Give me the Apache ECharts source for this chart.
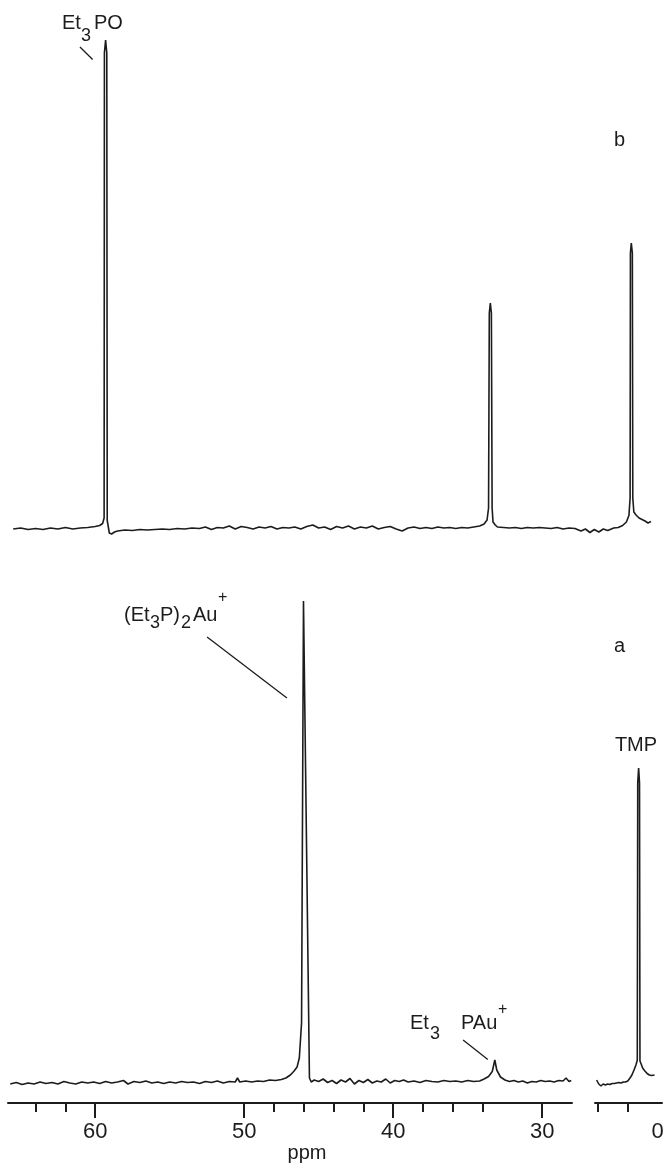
<!DOCTYPE html>
<html>
<head>
<meta charset="utf-8">
<style>
  html, body { margin: 0; padding: 0; background: #fff; }
  #chart { width: 665px; height: 1174px; }
</style>
<script src="https://cdn.jsdelivr.net/npm/echarts/dist/echarts.min.js"></script>
</head>
<body>
<div id="chart"></div>
<script>
// spectrum b (upper trace), [ppm, intensity]
const spectrumB = [
  [65.5, -0.2], [65.0, 0.0], [64.5, -0.3], [64.0, -0.1], [63.5, -0.3], [63.0, 0.0],
  [62.5, -0.2], [62.0, 0.1], [61.5, -0.2], [61.0, 0.0], [60.5, 0.1], [60.0, 0.3],
  [59.7, 0.5], [59.5, 0.9], [59.4, 2.0], [59.38, 95.0], [59.3, 97.6], [59.22, 95.0],
  [59.19, 1.5], [59.05, -1.0], [58.9, -1.2], [58.7, -0.8], [58.5, -0.6], [58.0, -0.4],
  [57.5, -0.5], [57.0, -0.3], [56.5, -0.4], [56.0, -0.3], [55.5, -0.2], [55.0, -0.3],
  [54.5, -0.1], [54.0, -0.2], [53.5, 0.0], [53.0, -0.1], [52.6, 0.2], [52.2, -0.3],
  [51.8, 0.1], [51.4, 0.0], [51.0, 0.4], [50.6, -0.2], [50.2, 0.3], [49.8, 0.1],
  [49.4, -0.2], [49.0, 0.2], [48.6, 0.0], [48.2, 0.3], [47.8, -0.2], [47.4, 0.1],
  [47.0, 0.0], [46.6, 0.2], [46.2, -0.2], [45.8, 0.3], [45.4, 0.6], [45.0, 0.0],
  [44.6, 0.2], [44.2, -0.3], [43.8, 0.3], [43.4, 0.0], [43.0, 0.4], [42.6, -0.2],
  [42.2, 0.2], [41.8, 0.0], [41.4, 0.4], [41.0, -0.2], [40.6, 0.1], [40.2, 0.3],
  [39.8, -0.2], [39.4, -0.6], [39.0, 0.0], [38.6, 0.2], [38.2, -0.1], [37.8, 0.1],
  [37.4, -0.1], [37.0, 0.2], [36.6, 0.0], [36.2, 0.1], [35.8, -0.1], [35.4, 0.1],
  [35.0, 0.0], [34.6, 0.2], [34.2, 0.4], [33.9, 0.8], [33.7, 1.6], [33.6, 4.0],
  [33.55, 43.0], [33.48, 45.0], [33.41, 43.0], [33.36, 4.0], [33.3, 1.2], [33.15, 0.6],
  [33.0, 0.2], [32.6, 0.1], [32.2, 0.0], [31.8, 0.1], [31.4, -0.1], [31.0, 0.1],
  [30.6, 0.0], [30.2, 0.1], [29.8, 0.0], [29.4, -0.1], [29.0, 0.1], [28.6, -0.2],
  [28.2, 0.0], [27.8, -0.1], [27.4, -0.6], [27.1, -0.2], [26.8, -0.9], [26.5, -0.3],
  [26.2, -0.8], [25.9, -0.2], [25.6, -0.5], [25.2, 0.0], [24.9, 0.1], [24.6, 0.5],
  [24.35, 1.2], [24.18, 2.5], [24.1, 6.0], [24.08, 55.0], [24.02, 57.0], [23.95, 55.0],
  [23.92, 6.0], [23.85, 3.2], [23.7, 2.6], [23.5, 2.0], [23.3, 1.7], [23.1, 1.4],
  [22.9, 1.0], [22.7, 1.3]
]

// spectrum a (lower trace), left part of the broken axis
const spectrumALeft = [
  [65.7, -0.2], [65.3, 0.1], [64.9, -0.3], [64.5, 0.0], [64.1, -0.2], [63.7, 0.2],
  [63.3, -0.1], [62.9, 0.1], [62.5, -0.2], [62.1, 0.3], [61.7, 0.0], [61.3, -0.2],
  [60.9, 0.2], [60.5, 0.0], [60.1, 0.2], [59.7, -0.1], [59.3, 0.3], [58.9, 0.0],
  [58.5, 0.2], [58.1, 0.5], [57.8, -0.2], [57.4, 0.3], [57.0, 0.1], [56.6, 0.4],
  [56.2, 0.0], [55.8, 0.2], [55.4, -0.1], [55.0, 0.2], [54.6, 0.0], [54.2, 0.3],
  [53.8, 0.1], [53.4, 0.2], [53.0, -0.1], [52.6, 0.3], [52.2, 0.1], [51.8, 0.4],
  [51.4, 0.0], [51.0, 0.3], [50.6, 0.2], [50.45, 1.0], [50.3, 0.2], [49.9, 0.4],
  [49.5, 0.2], [49.1, 0.4], [48.7, 0.3], [48.3, 0.6], [47.9, 0.5], [47.5, 0.7],
  [47.2, 1.0], [46.9, 1.6], [46.65, 2.4], [46.45, 3.2], [46.3, 5.0], [46.15, 12.0],
  [46.02, 96.4], [45.62, 1.0], [45.5, 0.2], [45.3, 0.6], [45.0, 0.3], [44.7, 0.8],
  [44.4, 0.1], [44.1, 0.5], [43.8, -0.1], [43.5, 0.6], [43.2, 0.2], [42.9, 0.9],
  [42.6, -0.2], [42.3, 0.5], [42.0, 0.1], [41.7, 0.7], [41.4, 0.0], [41.1, 0.4],
  [40.8, 0.2], [40.5, 0.8], [40.2, 0.0], [39.9, 0.5], [39.6, 0.3], [39.3, 0.6],
  [39.0, 0.2], [38.6, 0.4], [38.2, 0.1], [37.8, 0.5], [37.4, 0.3], [37.0, 0.2],
  [36.6, 0.5], [36.2, 0.3], [35.8, 0.4], [35.4, 0.2], [35.0, 0.5], [34.6, 0.3],
  [34.2, 0.4], [33.9, 0.8], [33.6, 1.3], [33.35, 2.3], [33.18, 4.6], [33.05, 2.6],
  [32.8, 1.2], [32.5, 0.6], [32.2, 0.3], [31.9, 0.5], [31.6, 0.2], [31.3, 0.4],
  [31.0, 0.0], [30.7, 0.3], [30.4, 0.2], [30.1, 0.5], [29.8, 0.3], [29.5, 0.4],
  [29.2, 0.2], [28.9, 0.5], [28.6, 0.4], [28.4, 1.0], [28.2, 0.3], [28.05, 0.5]
]

// spectrum a, right part (TMP reference)
const spectrumARight = [
  [4.09, 0.6], [3.95, -0.2], [3.8, -0.6], [3.65, -0.2], [3.5, -0.4], [3.35, -0.2],
  [3.2, -0.3], [3.05, -0.1], [2.9, -0.1], [2.75, 0.0], [2.6, 0.1], [2.45, 0.0],
  [2.3, 0.2], [2.15, 0.2], [2.0, 0.4], [1.85, 1.0], [1.72, 1.6], [1.58, 2.6],
  [1.45, 3.6], [1.36, 4.6], [1.33, 60.0], [1.27, 63.0], [1.21, 60.0], [1.18, 4.4],
  [1.1, 3.8], [1.0, 3.0], [0.85, 2.4], [0.7, 1.9], [0.55, 1.6], [0.4, 1.5], [0.2, 1.6]
]

const majorTicksLeft = [60, 50, 40, 30]
const minorTicksLeft = [64, 62, 48, 46, 44, 42, 38, 36, 34]
const ticksRight = [4, 2]
const labelsRight = [0]

const ink = '#1c1c1c'
const font = 'Liberation Sans'

const chart = echarts.init(document.getElementById('chart'))

function txt(text, x, y, size, align) {
  return {
    type: 'text', x: x, y: y, silent: true,
    style: {
      text: text, fill: ink, fontFamily: font, fontSize: size,
      align: align || 'left', verticalAlign: 'middle'
    }
  }
}

const leaderStyle = {
  silent: true, symbol: ['none', 'none'], label: { show: false },
  lineStyle: { color: ink, width: 1.3, type: 'solid' }
}

const traceStyle = { color: ink, width: 1.6 }

chart.setOption({
  animation: false,
  backgroundColor: '#fff',
  grid: [
    { left: 8, top: 28, width: 654, height: 520, outerBoundsMode: 'none', containLabel: false },
    { left: 8, top: 583, width: 564, height: 520, outerBoundsMode: 'none', containLabel: false },
    { left: 595, top: 583, width: 67, height: 520, outerBoundsMode: 'none', containLabel: false }
  ],
  xAxis: [
    { gridIndex: 0, type: 'value', inverse: true, min: 21.96, max: 65.85, show: false },
    {
      gridIndex: 1, type: 'value', inverse: true, min: 28.0, max: 65.85, position: 'bottom',
      axisLine: { onZero: false, lineStyle: { color: ink, width: 2 } },
      axisTick: { customValues: majorTicksLeft, length: 15, lineStyle: { color: ink, width: 2 } },
      axisLabel: { customValues: majorTicksLeft, fontSize: 22, margin: 18, color: ink, fontFamily: font },
      splitLine: { show: false }
    },
    {
      gridIndex: 1, type: 'value', inverse: true, min: 28.0, max: 65.85, position: 'bottom', offset: 0,
      axisLine: { show: false, onZero: false },
      axisTick: { customValues: minorTicksLeft, length: 9, lineStyle: { color: ink, width: 2 } },
      axisLabel: { show: false },
      splitLine: { show: false }
    },
    {
      gridIndex: 2, type: 'value', inverse: true, min: -0.3, max: 4.2, position: 'bottom',
      axisLine: { onZero: false, lineStyle: { color: ink, width: 2 } },
      axisTick: { customValues: ticksRight, length: 9, lineStyle: { color: ink, width: 2 } },
      axisLabel: { customValues: labelsRight, fontSize: 22, margin: 18, color: ink, fontFamily: font },
      splitLine: { show: false }
    }
  ],
  yAxis: [
    { gridIndex: 0, type: 'value', min: -4, max: 100, show: false },
    { gridIndex: 1, type: 'value', min: -4, max: 100, show: false },
    { gridIndex: 2, type: 'value', min: -4, max: 100, show: false }
  ],
  series: [
    {
      name: 'b', type: 'line', xAxisIndex: 0, yAxisIndex: 0, data: spectrumB,
      showSymbol: false, lineStyle: traceStyle,
      markLine: Object.assign({
        data: [[{ coord: [61.02, 96.2] }, { coord: [60.17, 93.7] }]]
      }, leaderStyle)
    },
    {
      name: 'a', type: 'line', xAxisIndex: 1, yAxisIndex: 1, data: spectrumALeft,
      showSymbol: false, lineStyle: traceStyle,
      markLine: Object.assign({
        data: [
          [{ coord: [52.49, 89.2] }, { coord: [47.13, 77.0] }],
          [{ coord: [35.31, 8.6] }, { coord: [33.65, 4.7] }]
        ]
      }, leaderStyle)
    },
    {
      name: 'a TMP', type: 'line', xAxisIndex: 3, yAxisIndex: 2, data: spectrumARight,
      showSymbol: false, lineStyle: traceStyle
    }
  ],
  graphic: [
    txt('Et', 62, 23, 20), txt('3', 81, 36, 18), txt('PO', 94, 23, 20),
    txt('b', 614, 140, 20),
    txt('(Et', 124, 615, 20), txt('3', 150, 623, 18), txt('P)', 160, 615, 20),
    txt('2', 181, 623, 18), txt('Au', 193, 615, 20), txt('+', 218, 598, 16),
    txt('a', 614, 646, 20),
    txt('TMP', 636, 745, 20, 'center'),
    txt('Et', 410, 1023, 20), txt('3', 430, 1034, 18), txt('PAu', 461, 1023, 20),
    txt('+', 498, 1010, 16),
    txt('ppm', 307, 1153, 20, 'center')
  ]
})
</script>
</body>
</html>
